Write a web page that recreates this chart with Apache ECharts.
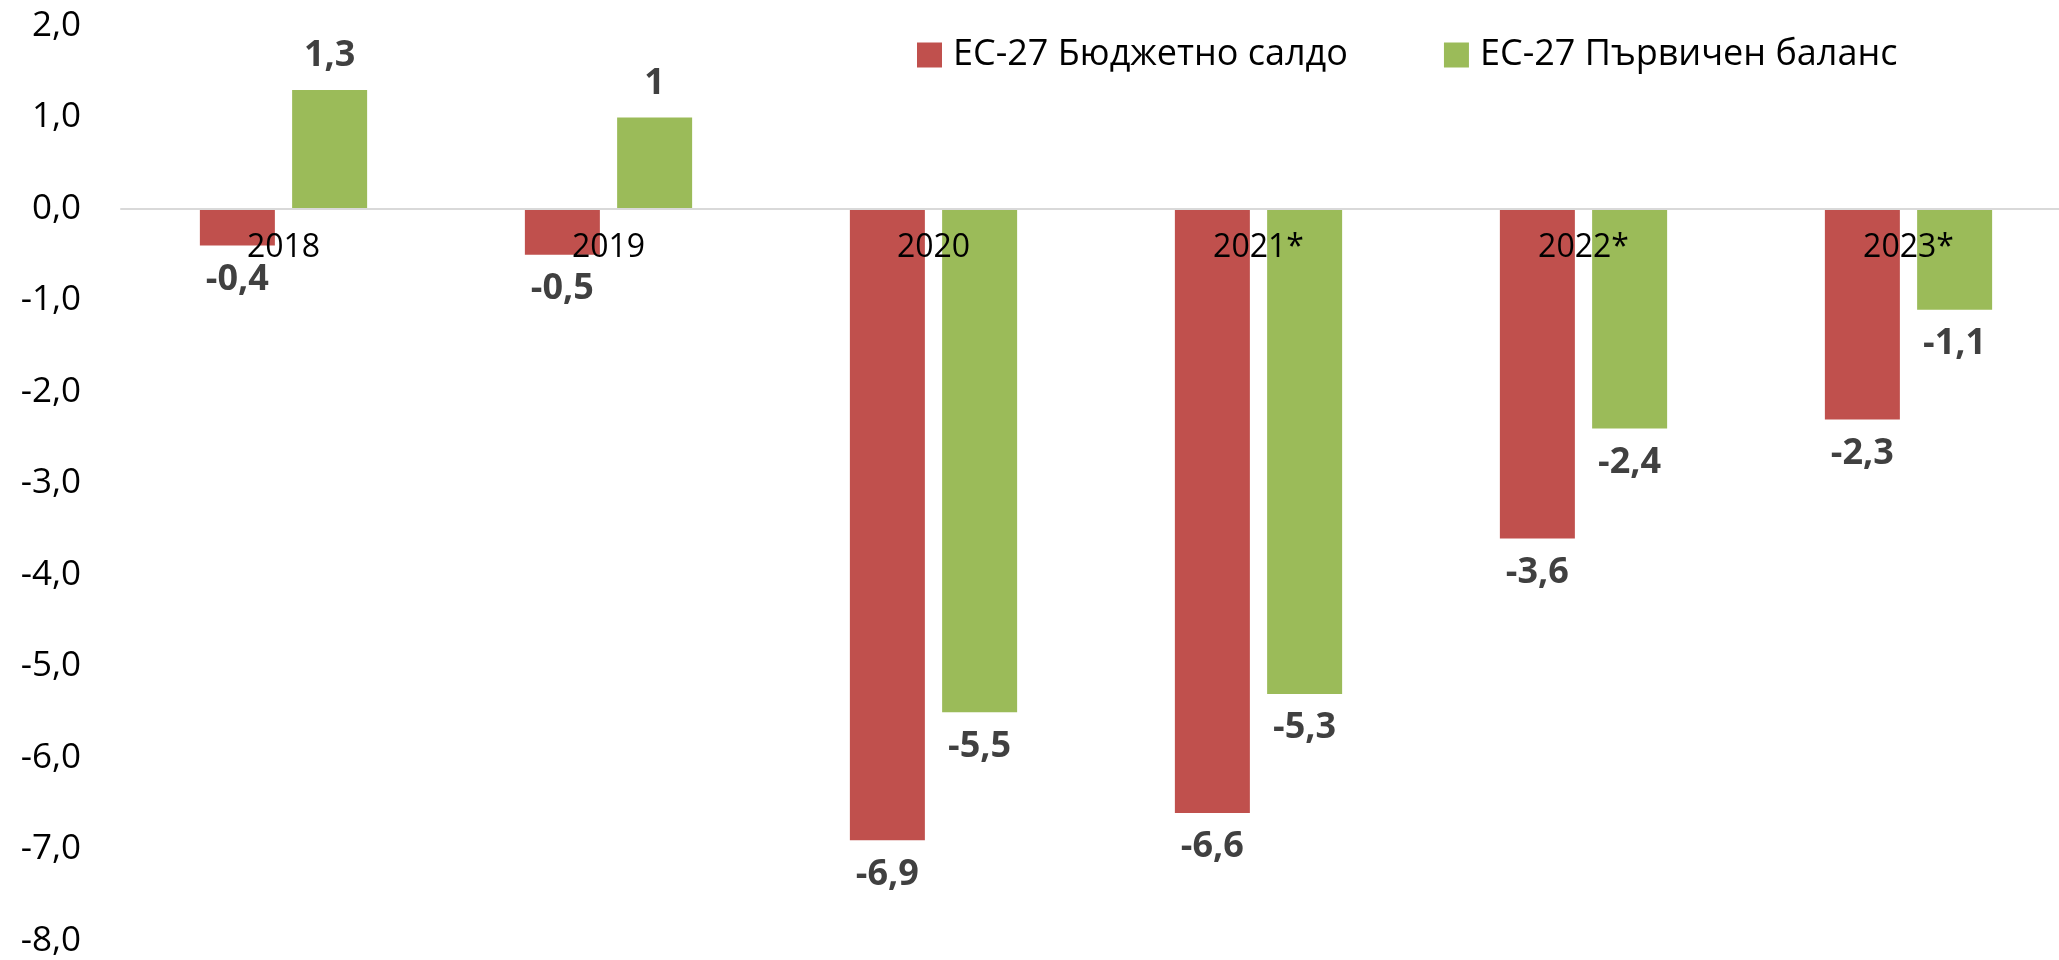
<!DOCTYPE html>
<html>
<head>
<meta charset="utf-8">
<script src="https://cdn.jsdelivr.net/npm/echarts@6/dist/echarts.min.js"></script>
<style>
  html, body { margin: 0; padding: 0; background: #fff; }
  #main { width: 2059px; height: 960px; }
</style>
</head>
<body>
<div id="main"></div>
<script>
const years = ['2018', '2019', '2020', '2021*', '2022*', '2023*'];
const budgetBalance = [-0.4, -0.5, -6.9, -6.6, -3.6, -2.3];
const primaryBalance = [1.3, 1, -5.5, -5.3, -2.4, -1.1];
const seriesNames = ['ЕС-27 Бюджетно салдо', 'ЕС-27 Първичен баланс'];

const font = '"Open Sans", "Liberation Sans", sans-serif';
const comma = (v) => String(v).replace('.', ',');

// label goes above positive bars, below negative ones
const withLabels = (arr) => arr.map(v => ({
  value: v,
  label: { position: v < 0 ? 'bottom' : 'top' }
}));

const gridTop = 26, gridBottom = 19;
const yMin = -8, yMax = 2;
// distance from the grid bottom up to the zero line, so the category axis sits on 0
const plotH = 960 - gridTop - gridBottom;
const zeroOffset = plotH * (0 - yMin) / (yMax - yMin);

const chart = echarts.init(document.getElementById('main'));

const barLabel = {
  show: true,
  distance: 16,
  color: '#404040',
  fontFamily: font,
  fontWeight: 'bold',
  fontSize: 36,
  formatter: (p) => comma(p.value)
};

chart.setOption({
  animation: false,
  backgroundColor: '#fff',
  grid: { left: 121, right: -12, top: gridTop, bottom: gridBottom, outerBoundsMode: 'none', containLabel: false },
  legend: {
    left: 917,
    top: 37,
    padding: 0,
    itemWidth: 25,
    itemHeight: 25,
    itemGap: 96,
    icon: 'rect',
    textStyle: { fontFamily: font, fontSize: 36, color: '#000', padding: [0, 0, 0, 6] },
    data: seriesNames
  },
  xAxis: {
    type: 'category',
    data: years,
    z: 10,
    position: 'bottom',
    offset: -zeroOffset,
    axisLine: { onZero: false, lineStyle: { color: '#d9d9d9', width: 2 } },
    axisTick: { show: false },
    axisLabel: { color: '#000', fontFamily: font, fontSize: 32, margin: 23 }
  },
  yAxis: {
    type: 'value',
    min: yMin,
    max: yMax,
    interval: 1,
    axisLine: { show: false },
    axisTick: { show: false },
    splitLine: { show: false },
    axisLabel: {
      color: '#000',
      fontFamily: font,
      fontSize: 35,
      margin: 40,
      formatter: (v) => v.toFixed(1).replace('.', ',')
    }
  },
  series: [
    {
      name: seriesNames[0],
      type: 'bar',
      barWidth: 75,
      barGap: '23%',
      itemStyle: { color: '#c0504d' },
      label: barLabel,
      data: withLabels(budgetBalance)
    },
    {
      name: seriesNames[1],
      type: 'bar',
      barWidth: 75,
      barGap: '23%',
      itemStyle: { color: '#9bbb59' },
      label: barLabel,
      data: withLabels(primaryBalance)
    }
  ]
});
</script>
</body>
</html>
